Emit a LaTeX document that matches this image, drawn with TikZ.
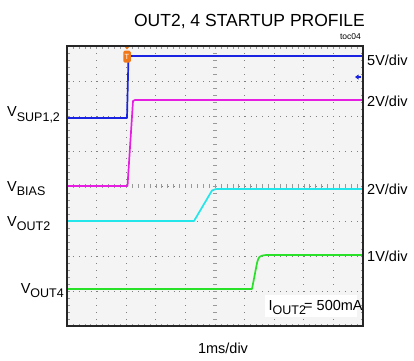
\documentclass[tikz,border=0pt]{standalone}
\usepackage{fontspec}
\setmainfont{Liberation Sans}
\newcommand\sublbl[2]{{\fontsize{14.5}{14.5}\selectfont #1}\raisebox{-4.5pt}{\fontsize{12.5}{12.5}\selectfont #2}}
\definecolor{trblue}{RGB}{25,35,225}
\definecolor{trmag}{RGB}{230,30,225}
\definecolor{trcyan}{RGB}{35,230,235}
\definecolor{trgreen}{RGB}{40,225,40}
\definecolor{trorange}{RGB}{240,120,25}
\definecolor{scopebg}{RGB}{244,244,244}
\tikzset{
  hgrid/.style={black!50, line width=0.7pt, dash pattern=on 0.7pt off 5.22pt},
  vgrid/.style={black!50, line width=0.7pt, dash pattern=on 0.7pt off 6.3pt},
  tick/.style={black!40, line width=0.5pt},
  trace/.style={line width=1.7pt, line join=round},
  lbl/.style={inner sep=0pt, font=\fontsize{14.5}{14.5}\selectfont},
}
\begin{document}
\begin{tikzpicture}[x=1pt,y=-1pt]
\useasboundingbox (0,0) rectangle (414,360);
% plot area
\fill[scopebg] (67,46) rectangle (363,326);
\foreach \i in {1,...,9} \draw[vgrid] ({67+29.6*\i},46) -- ({67+29.6*\i},326);
\foreach \j in {1,...,7} \draw[hgrid] (67,{46+35*\j}) -- (363,{46+35*\j});
% center axis ticks
\foreach \k in {1,...,49} {
  \draw[tick] ({67+5.92*\k},184) -- ({67+5.92*\k},188);
  \draw[tick] ({67+5.92*\k},46) -- ({67+5.92*\k},48.5);
  \draw[tick] ({67+5.92*\k},326) -- ({67+5.92*\k},323.5);
}
\foreach \k in {1,...,39} {
  \draw[tick] (213,{46+7*\k}) -- (217,{46+7*\k});
  \draw[tick] (67,{46+7*\k}) -- (69.5,{46+7*\k});
  \draw[tick] (363,{46+7*\k}) -- (360.5,{46+7*\k});
}
% traces
\draw[trace, trblue] (67,118) -- (127,118) -- (128.5,56) -- (363,56);
\draw[trace, trmag] (67,186) -- (127.5,186) -- (133,101) -- (135,100) -- (363,100);
\draw[trace, trcyan] (67,221) -- (194,221) -- (212,190.5) -- (216,189) -- (363,189);
\draw[trace, trgreen] (67,289) -- (252,289) -- (257,263) .. controls (259,256) .. (266,255) -- (363,255);
% trigger marker
\fill[trorange] (124,46) -- (130,46) -- (127,49.5) -- cycle;
\node[fill=trorange, rounded corners=1.5pt, minimum width=7.5pt, minimum height=12pt, inner sep=0pt, text=white, font=\fontsize{7.5}{7.5}\selectfont] (trig) at (127,56.5) {T};
% channel reference marker
\fill[trblue] (355,77) -- (358.5,74.5) -- (358.5,79.5) -- cycle;
\draw[trblue, line width=1.2pt] (357,77) -- (361,77);
% frame
\draw[black!85, line width=1.5pt] (67,46) rectangle (363,326);
% white box for current label
\fill[white] (265,295) rectangle (357,317);
\node[lbl, anchor=base west] (iout) at (268.5,310) {\sublbl{I}{OUT2}};
\node[lbl, anchor=base west] (iout2) at (304,310) {= 500mA};
% title
\node[inner sep=0pt, anchor=base, font=\fontsize{17.5}{17.5}\selectfont] (title) at (249.5,26) {OUT2, 4 STARTUP PROFILE};
\node[inner sep=0pt, anchor=base east, font=\fontsize{8.5}{8.5}\selectfont] (toc) at (361,39.5) {toc04};
% scale labels
\node[lbl, anchor=base west] (s1) at (367,65.5) {5V/div};
\node[lbl, anchor=base west] (s2) at (367,106.5) {2V/div};
\node[lbl, anchor=base west] (s3) at (367,194) {2V/div};
\node[lbl, anchor=base west] (s4) at (367,261.5) {1V/div};
% channel labels
\node[lbl, anchor=base west] (vsup) at (7,116.5) {\sublbl{V}{SUP1,2}};
\node[lbl, anchor=base west] (vbias) at (7,191) {\sublbl{V}{BIAS}};
\node[lbl, anchor=base west] (vout2) at (7,226) {\sublbl{V}{OUT2}};
\node[lbl, anchor=base east] (vout4) at (64,293) {\sublbl{V}{OUT4}};
% time axis
\node[lbl, anchor=base] (time) at (223,353) {1ms/div};
\end{tikzpicture}
\end{document}
